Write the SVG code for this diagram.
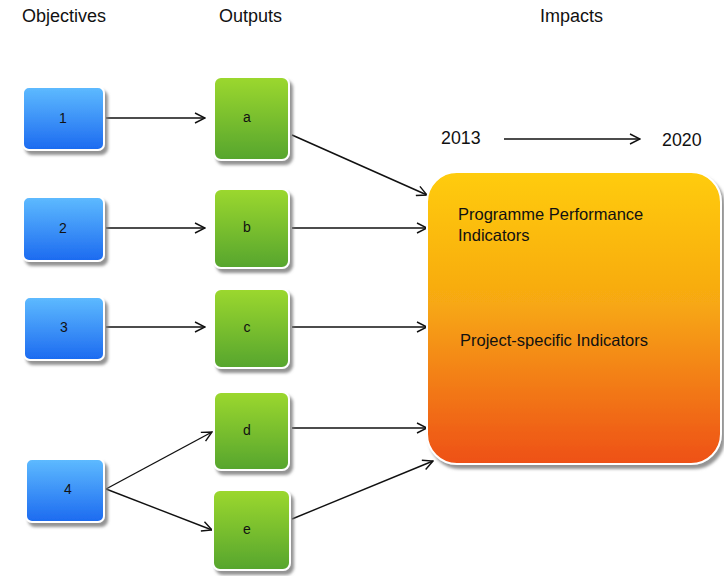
<svg xmlns="http://www.w3.org/2000/svg" width="724" height="576" viewBox="0 0 724 576">
  <defs>
    <linearGradient id="gBlue" x1="0" y1="0" x2="0" y2="1">
      <stop offset="0" stop-color="#5EBBFF"/>
      <stop offset="1" stop-color="#1C6AF0"/>
    </linearGradient>
    <linearGradient id="gGreen" x1="0" y1="0" x2="0" y2="1">
      <stop offset="0" stop-color="#9CD82E"/>
      <stop offset="1" stop-color="#56A52E"/>
    </linearGradient>
    <linearGradient id="gOrange" x1="0" y1="0" x2="0" y2="1">
      <stop offset="0" stop-color="#FFCC08"/>
      <stop offset="0.45" stop-color="#F7A812"/>
      <stop offset="1" stop-color="#EE5014"/>
    </linearGradient>
    <filter id="shadow" x="-10%" y="-10%" width="130%" height="130%">
      <feDropShadow dx="3" dy="4" stdDeviation="1.5" flood-color="#808080" flood-opacity="0.85"/>
    </filter>
    <marker id="arrow" viewBox="0 0 12 12" refX="11" refY="6" markerWidth="12" markerHeight="12" markerUnits="userSpaceOnUse" orient="auto">
      <path d="M1,1 L11,6 L1,11" fill="none" stroke="#111" stroke-width="1.4"/>
    </marker>
  </defs>
  <style>
    .hdr { font-family: "Liberation Sans", Arial, sans-serif; font-size: 18px; fill: #111; }
    .year { font-family: "Liberation Sans", Arial, sans-serif; font-size: 17.8px; fill: #111; }
    .lbl { font-family: "Liberation Sans", Arial, sans-serif; font-size: 14px; fill: #111; text-anchor: middle; }
    .txt { font-family: "Liberation Sans", Arial, sans-serif; font-size: 16.5px; fill: #111; }
    .box { stroke: #fff; stroke-width: 2; filter: url(#shadow); }
    .blue { fill: url(#gBlue); }
    .green { fill: url(#gGreen); }
    .conn line { stroke: #111; stroke-width: 1.4; marker-end: url(#arrow); }
  </style>
  <rect width="724" height="576" fill="#fff"/>

  <!-- column headers -->
  <text class="hdr" x="22" y="22">Objectives</text>
  <text class="hdr" x="219" y="22">Outputs</text>
  <text class="hdr" x="540" y="22">Impacts</text>

  <!-- time span -->
  <text class="year" x="441" y="144">2013</text>
  <text class="year" x="662" y="146">2020</text>

  <!-- connectors -->
  <g id="connectors" class="conn">
    <line x1="504" y1="139" x2="640" y2="139"/>
    <line x1="106" y1="118" x2="205" y2="118"/>
    <line x1="106" y1="228" x2="205" y2="228"/>
    <line x1="106" y1="327" x2="205" y2="327"/>
    <line x1="106" y1="489" x2="212" y2="432"/>
    <line x1="106" y1="489" x2="212" y2="530"/>
    <line x1="292" y1="135" x2="427" y2="195"/>
    <line x1="292" y1="228" x2="427" y2="228"/>
    <line x1="292" y1="327" x2="427" y2="327"/>
    <line x1="292" y1="428" x2="427" y2="428"/>
    <line x1="292" y1="519" x2="433" y2="461"/>
  </g>

  <!-- objectives -->
  <g id="obj1"><rect class="box blue" x="23" y="87" width="81" height="63" rx="6"/><text class="lbl" x="63" y="123">1</text></g>
  <g id="obj2"><rect class="box blue" x="23" y="197" width="81" height="64" rx="6"/><text class="lbl" x="63" y="233">2</text></g>
  <g id="obj3"><rect class="box blue" x="24" y="297" width="80" height="63" rx="6"/><text class="lbl" x="64" y="332">3</text></g>
  <g id="obj4"><rect class="box blue" x="26" y="459" width="78" height="63" rx="6"/><text class="lbl" x="68" y="494">4</text></g>

  <!-- outputs -->
  <g id="outA"><rect class="box green" x="214" y="77" width="75" height="83" rx="7"/><text class="lbl" x="247" y="122">a</text></g>
  <g id="outB"><rect class="box green" x="214" y="189" width="75" height="79" rx="7"/><text class="lbl" x="247" y="232">b</text></g>
  <g id="outC"><rect class="box green" x="214" y="289" width="75" height="79" rx="7"/><text class="lbl" x="247" y="332">c</text></g>
  <g id="outD"><rect class="box green" x="214" y="392" width="75" height="78" rx="7"/><text class="lbl" x="247" y="435">d</text></g>
  <g id="outE"><rect class="box green" x="213" y="490" width="77" height="80" rx="7"/><text class="lbl" x="247" y="534">e</text></g>

  <!-- impacts -->
  <g id="impacts">
    <rect class="box" x="427" y="172" width="294" height="292" rx="30" fill="url(#gOrange)"/>
    <text class="txt" x="458" y="220">Programme Performance</text>
    <text class="txt" x="458" y="241">Indicators</text>
    <text class="txt" x="460" y="346">Project-specific Indicators</text>
  </g>
</svg>
